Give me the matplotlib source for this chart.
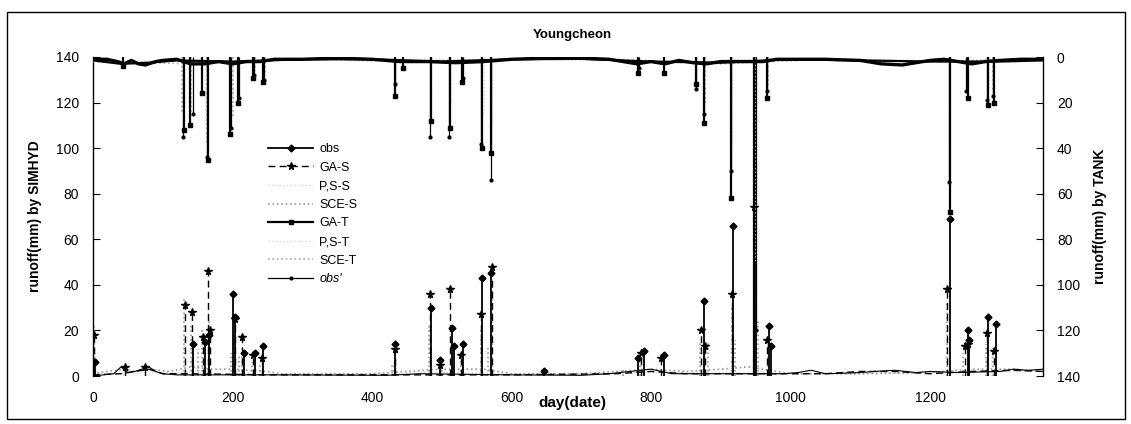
import matplotlib.pyplot as plt
from matplotlib.lines import Line2D
from matplotlib.patches import Rectangle

plt.rcParams['font.family'] = ['Liberation Sans', 'DejaVu Sans']

# each series: slow baseline knots (day, mm) + storm peaks (day, mm)

# ---- SIMHYD runoff (mm), left axis ----
obs_base_day = [0, 30, 40, 50, 60, 70, 80, 90, 100, 120, 260, 420, 470, 600, 700, 740, 770, 800,
                830, 860, 900, 990, 1010, 1030, 1050, 1100, 1120, 1150, 1180, 1200, 1240, 1300,
                1320, 1340, 1362]
obs_base_val = [0, 1, 4, 1.5, 2, 3, 4, 2, 1, 0.5, 0.5, 0.3, 1, 0.5, 0.3, 1, 2, 3,
                1, 1, 1, 1, 1.5, 2.5, 1, 1.5, 2, 2.5, 1.5, 2, 1.5, 2,
                3, 2.5, 3]
obs_peak_day = [3, 144, 160, 166, 201, 203, 216, 232, 244, 433, 484, 498, 515, 517, 530, 558, 570,
                646, 782, 790, 818, 876, 918, 951, 969, 972, 1228, 1254, 1256, 1283, 1294]
obs_peak_val = [6, 14, 15, 18, 36, 26, 10, 10, 13, 14, 30, 7, 21, 13, 14, 43, 45,
                2, 8, 11, 9, 33, 66, 150, 22, 13, 69, 20, 16, 26, 23]

gas_base_day = [0, 40, 60, 80, 100, 130, 260, 400, 600, 750, 800, 850, 900, 1000, 1050, 1100,
                1150, 1200, 1260, 1320, 1362]
gas_base_val = [0.5, 1, 2, 3, 1, 1, 0.5, 0.5, 0.5, 1, 2, 1, 1, 1, 1, 2,
                2, 1, 2, 2.5, 2]
gas_peak_day = [2, 46, 75, 132, 142, 158, 165, 168, 203, 214, 230, 242, 433, 483, 497, 512, 527,
                556, 572, 786, 815, 872, 878, 916, 948, 966, 1225, 1250, 1254, 1282, 1292]
gas_peak_val = [18, 4, 4, 31, 28, 17, 46, 20, 25, 17, 9, 8, 12, 36, 5, 38, 9,
                27, 48, 10, 8, 20, 13, 36, 74, 16, 38, 13, 14, 19, 11]

pss_base_day = [0, 100, 200, 300, 400, 500, 600, 700, 800, 900, 1000, 1100, 1200, 1300, 1362]
pss_base_val = [1, 1.5, 1, 0.8, 1, 1.5, 1, 0.8, 1.5, 1.5, 1, 1, 1.5, 2, 2]
pss_peak_day = [3, 131, 143, 157, 165, 200, 203, 215, 231, 243, 434, 484, 514, 557, 571, 785, 875,
                918, 950, 968, 1227, 1254, 1288]
pss_peak_val = [12, 20, 12, 10, 30, 7, 14, 8, 5, 6, 8, 14, 10, 18, 28, 5, 18,
                24, 43, 12, 20, 9, 10]

sces_base_day = [0, 20, 46, 60, 80, 110, 140, 170, 200, 250, 270, 330, 400, 450, 500, 560, 600,
                 700, 800, 850, 900, 940, 980, 1000, 1100, 1200, 1260, 1320, 1362]
sces_base_val = [1, 2, 3, 2, 3, 2, 4, 3, 3, 2, 1, 1, 1, 2, 3, 3, 1,
                 1, 3, 2, 3, 4, 2, 1, 1, 1.5, 3, 3, 2]
sces_peak_day = [2, 130, 140, 150, 156, 166, 198, 202, 210, 214, 228, 240, 428, 432, 482, 500, 514,
                 528, 556, 566, 572, 760, 784, 818, 870, 876, 882, 916, 920, 950, 954, 968, 1224,
                 1228, 1248, 1256, 1280, 1290]
sces_peak_val = [22, 34, 22, 12, 20, 25, 10, 18, 9, 12, 6, 5, 5, 6, 22, 6, 15,
                 8, 20, 13, 40, 3, 7, 6, 15, 22, 15, 30, 16, 55, 25, 16, 32,
                 20, 10, 8, 14, 13]

# ---- TANK runoff (mm), right axis, drawn downward ----
gat_base_day = [0, 20, 35, 45, 55, 65, 75, 90, 100, 120, 140, 160, 180, 200, 220, 240, 260, 300,
                350, 400, 440, 460, 480, 520, 560, 600, 650, 700, 740, 760, 780, 800, 820, 840,
                860, 880, 900, 930, 960, 980, 1000, 1050, 1100, 1130, 1160, 1200, 1220, 1240,
                1260, 1280, 1300, 1330, 1362]
gat_base_val = [1, 1, 2, 3, 1.5, 3, 3.5, 2, 1.5, 1, 3, 3, 2, 3, 2, 2, 1, 1,
                0.5, 1, 2, 2, 2, 2.5, 2, 1, 0.5, 0.5, 1, 2, 3, 2, 3, 1.5,
                2.5, 3, 2, 2, 2, 1, 1, 1, 1.5, 3, 3.5, 1.5, 1, 2,
                3, 2, 1.5, 1, 1]
gat_peak_day = [43, 130, 139, 156, 165, 197, 208, 230, 244, 433, 445, 484, 512, 529, 558, 570, 782,
                818, 864, 876, 914, 947, 967, 1228, 1254, 1283, 1292]
gat_peak_val = [4, 32, 30, 16, 45, 34, 20, 9, 11, 17, 5, 28, 31, 11, 40, 42, 7,
                7, 12, 29, 62, 145, 18, 68, 18, 21, 20]

pst_base_day = [0, 200, 400, 600, 800, 1000, 1200, 1362]
pst_base_val = [1.5, 2, 1, 1, 2, 1, 1.5, 1]
pst_peak_day = [130, 160, 200, 433, 485, 513, 560, 572, 875, 916, 949, 968, 1229, 1284]
pst_peak_val = [22, 28, 20, 8, 18, 20, 25, 30, 18, 40, 90, 10, 40, 14]

scet_base_day = [0, 150, 300, 450, 600, 750, 900, 1050, 1200, 1362]
scet_base_val = [2, 3, 1, 2, 1, 1, 3, 1, 2, 1]
scet_peak_day = [128, 140, 164, 200, 232, 246, 433, 484, 512, 558, 570, 877, 915, 948, 968, 1228,
                 1254, 1290]
scet_peak_val = [25, 25, 38, 26, 6, 8, 10, 20, 22, 30, 36, 20, 45, 100, 13, 45,
                 12, 15]

obst_base_day = [0, 40, 80, 120, 200, 300, 400, 500, 600, 700, 800, 900, 1000, 1100, 1200, 1300,
                 1362]
obst_base_val = [1.5, 3, 2.5, 1.5, 2, 1, 1, 2, 1, 0.8, 2, 2.5, 1, 1.5, 2, 2, 1.5]
obst_peak_day = [129, 143, 163, 198, 209, 231, 245, 433, 483, 511, 530, 556, 571, 783, 865, 876,
                 915, 950, 966, 1227, 1252, 1281, 1290]
obst_peak_val = [35, 25, 44, 31, 18, 8, 10, 12, 35, 35, 9, 38, 54, 5, 14, 25,
                 50, 120, 15, 55, 15, 19, 17]

x_ticks = [0, 200, 400, 600, 800, 1000, 1200]
y_ticks = [0, 20, 40, 60, 80, 100, 120, 140]


def draw(axis, base_d, base_v, peak_d, peak_v, color, ls, lw, marker=None, ms=0, base_lw=None):
    axis.plot(base_d, base_v, color=color, ls=ls, lw=base_lw or lw)
    axis.vlines(peak_d, 0, peak_v, colors=color, linestyles=ls, lw=lw)
    if marker:
        axis.plot(peak_d, peak_v, ls='none', marker=marker, ms=ms, color=color)
    return Line2D([], [], color=color, ls=ls, lw=lw, marker=marker, ms=ms)


W, H = 1131, 424
fig = plt.figure(figsize=(W / 100, H / 100), dpi=100)
ax = fig.add_axes([93 / W, 1 - 376 / H, 950 / W, 319 / H])
ax2 = ax.twinx()

handles = {}
handles['P,S-S'] = draw(ax, pss_base_day, pss_base_val, pss_peak_day, pss_peak_val,
                        '#d4d4d4', ':', 1.0)
handles['SCE-S'] = draw(ax, sces_base_day, sces_base_val, sces_peak_day, sces_peak_val,
                        '#9a9a9a', ':', 1.2)
handles['GA-S'] = draw(ax, gas_base_day, gas_base_val, gas_peak_day, gas_peak_val,
                       'black', (0, (5, 3)), 1.0, '*', 5.5)
handles['obs'] = draw(ax, obs_base_day, obs_base_val, obs_peak_day, obs_peak_val,
                      'black', '-', 1.3, 'D', 3.5, base_lw=0.8)

handles['P,S-T'] = draw(ax2, pst_base_day, pst_base_val, pst_peak_day, pst_peak_val,
                        '#dadada', ':', 1.0)
handles['SCE-T'] = draw(ax2, scet_base_day, scet_base_val, scet_peak_day, scet_peak_val,
                        '#aaaaaa', ':', 1.2)
handles['GA-T'] = draw(ax2, gat_base_day, gat_base_val, gat_peak_day, gat_peak_val,
                       'black', '-', 1.6, 's', 3, base_lw=2.4)
handles["obs'"] = draw(ax2, obst_base_day, obst_base_val, obst_peak_day, obst_peak_val,
                       'black', '-', 0.9, '.', 4, base_lw=1.6)

ax.set_xlim(0, 1362)
ax.set_ylim(0, 140)
ax2.set_ylim(140, 0)
ax.set_xticks(x_ticks)
ax.set_yticks(y_ticks)
ax2.set_yticks(y_ticks)

for s in ['top', 'bottom', 'right']:
    ax.spines[s].set_visible(False)
for s in ['top', 'bottom', 'left']:
    ax2.spines[s].set_visible(False)
ax.spines['left'].set_linewidth(1.0)
ax2.spines['right'].set_linewidth(1.0)

ax.tick_params(axis='x', length=0, pad=11, labelsize=10)
ax.tick_params(axis='y', direction='in', length=5, pad=10, labelsize=10)
ax2.tick_params(axis='y', direction='in', length=5, pad=10, labelsize=10)

ax.set_ylabel('runoff(mm) by SIMHYD', fontsize=10, fontweight='bold')
ax.yaxis.set_label_coords((42 - 93) / 950, 0.5)
ax2.set_ylabel('runoff(mm) by TANK', fontsize=10, fontweight='bold')
ax2.yaxis.set_label_coords((1093 - 93) / 950, 0.5)

fig.text(572 / W, 1 - 403 / H, 'day(date)', ha='center', va='center', fontsize=11, fontweight='bold')
fig.text(572 / W, 1 - 35 / H, 'Youngcheon', ha='center', va='center', fontsize=9.5, fontweight='bold')

order = ['obs', 'GA-S', 'P,S-S', 'SCE-S', 'GA-T', 'P,S-T', 'SCE-T', "obs'"]
leg = fig.legend([handles[k] for k in order], order, loc='upper left',
                 bbox_to_anchor=(268 / W, 1 - 143 / H), frameon=False, fontsize=9,
                 handlelength=3.6, handletextpad=0.5, labelspacing=0.53, borderpad=0,
                 borderaxespad=0)
leg.get_texts()[-1].set_fontstyle('italic')

fig.patches.append(Rectangle((7 / W, 1 - 419 / H), 1118 / W, 407 / H, transform=fig.transFigure,
                             fill=False, edgecolor='black', lw=1.0))

fig.savefig('out.png', dpi=100)
